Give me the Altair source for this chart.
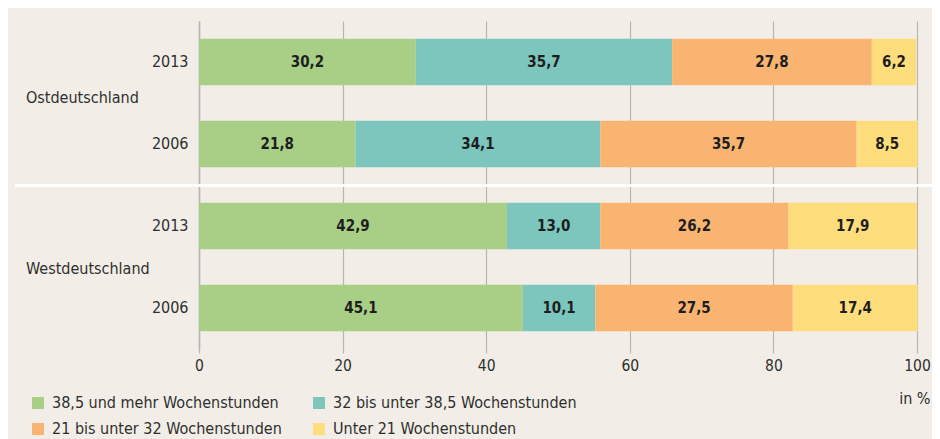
import altair as alt
import pandas as pd

# ---- data ----
rows = ["Ost 2013", "Ost 2006", "West 2013", "West 2006"]
regions = ["Ostdeutschland", "Westdeutschland"]
region_rows = ["Ost 2013", "West 2013"]
categories = [
    "38,5 und mehr Wochenstunden",
    "32 bis unter 38,5 Wochenstunden",
    "21 bis unter 32 Wochenstunden",
    "Unter 21 Wochenstunden",
]
v_38_plus = [30.2, 21.8, 42.9, 45.1]
v_32_38 = [35.7, 34.1, 13.0, 10.1]
v_21_32 = [27.8, 35.7, 26.2, 27.5]
v_under21 = [6.2, 8.5, 17.9, 17.4]
colors = ["#a8cf85", "#7cc6bd", "#f9b472", "#fede7c"]
x_ticks = [0, 20, 40, 60, 80, 100]

FONT = "DejaVu Sans Condensed"
BG = "#f2eee7"
GRID = "#b5b5b5"
TXT = "#2e2e2e"

# ---- build table ----
series = [v_38_plus, v_32_38, v_21_32, v_under21]
recs = []
for i, r in enumerate(rows):
    start = 0.0
    for c, vals in zip(categories, series):
        v = vals[i]
        recs.append({
            "row": r, "cat": c, "value": v,
            "start": start, "end": start + v,
            "mid": start + v / 2,
            "label": f"{v:.1f}".replace(".", ","),
        })
        start += v
df = pd.DataFrame(recs)
groups = pd.DataFrame({"row": region_rows, "region": regions})

yscale = alt.Scale(domain=rows, paddingInner=0.43, paddingOuter=0.215)
xscale = alt.Scale(domain=[0, 100], nice=False)

bars = alt.Chart(df).mark_bar().encode(
    x=alt.X("start:Q", scale=xscale,
            axis=alt.Axis(values=x_ticks, grid=True, gridColor=GRID, gridWidth=1.2,
                          domain=False, tickColor=GRID, tickSize=4, tickWidth=1.2,
                          labelFlush=False,
                          labelPadding=5, labelFontSize=15.5, labelColor=TXT,
                          labelFont=FONT,
                          title="in %", titleFont=FONT, titleFontSize=16,
                          titleFontWeight="normal", titleColor=TXT,
                          titleAnchor="end", titleAlign="right",
                          titleX=731, titleY=49, titleBaseline="middle")),
    x2="end:Q",
    y=alt.Y("row:N", scale=yscale, sort=rows,
            axis=alt.Axis(title=None, domainColor=GRID, domainWidth=1.5, ticks=False,
                          labelPadding=11, labelFontSize=16, labelColor=TXT,
                          labelFont=FONT,
                          labelExpr="split(datum.label, ' ')[1]")),
    color=alt.Color("cat:N", scale=alt.Scale(domain=categories, range=colors),
                    legend=alt.Legend(
                        orient="none", legendX=-169, legendY=374,
                        direction="horizontal", columns=2, title=None,
                        symbolType="square", symbolSize=144, symbolStrokeWidth=0,
                        symbolOpacity=1,
                        labelFont=FONT, labelFontSize=16, labelColor=TXT,
                        labelOffset=6, rowPadding=10, columnPadding=29,
                        padding=0, labelLimit=400)),
)

labels = alt.Chart(df).mark_text(
    font=FONT, fontSize=15, fontWeight="bold", color="#1e1e1e"
).encode(
    x=alt.X("mid:Q", scale=xscale),
    y=alt.Y("row:N", scale=yscale, sort=rows),
    text="label:N",
)

ost_text = alt.Chart(groups).transform_filter(
    alt.datum.region == "Ostdeutschland"
).mark_text(
    font=FONT, fontSize=16, color=TXT, align="left", dy=36, baseline="middle"
).encode(
    x=alt.value(-173),
    y=alt.Y("row:N", scale=yscale, sort=rows),
    text="region:N",
)

west_text = alt.Chart(groups).transform_filter(
    alt.datum.region == "Westdeutschland"
).mark_text(
    font=FONT, fontSize=16, color=TXT, align="left", dy=43, baseline="middle"
).encode(
    x=alt.value(-173),
    y=alt.Y("row:N", scale=yscale, sort=rows),
    text="region:N",
)

sep = alt.Chart(groups).mark_rule(color="white", strokeWidth=2.5).encode(
    x=alt.value(-184), x2=alt.value(733), y=alt.value(164.5)
)

chart = alt.layer(bars, labels, ost_text, west_text, sep).properties(
    width=718, height=328,
    autosize=alt.AutoSizeParams(type="none"),
    padding={"left": 191, "top": 13, "right": 15, "bottom": 90},
    background=BG,
).configure_view(stroke=None)

chart.save("out.html", embed_options={"renderer": "svg", "actions": False})
